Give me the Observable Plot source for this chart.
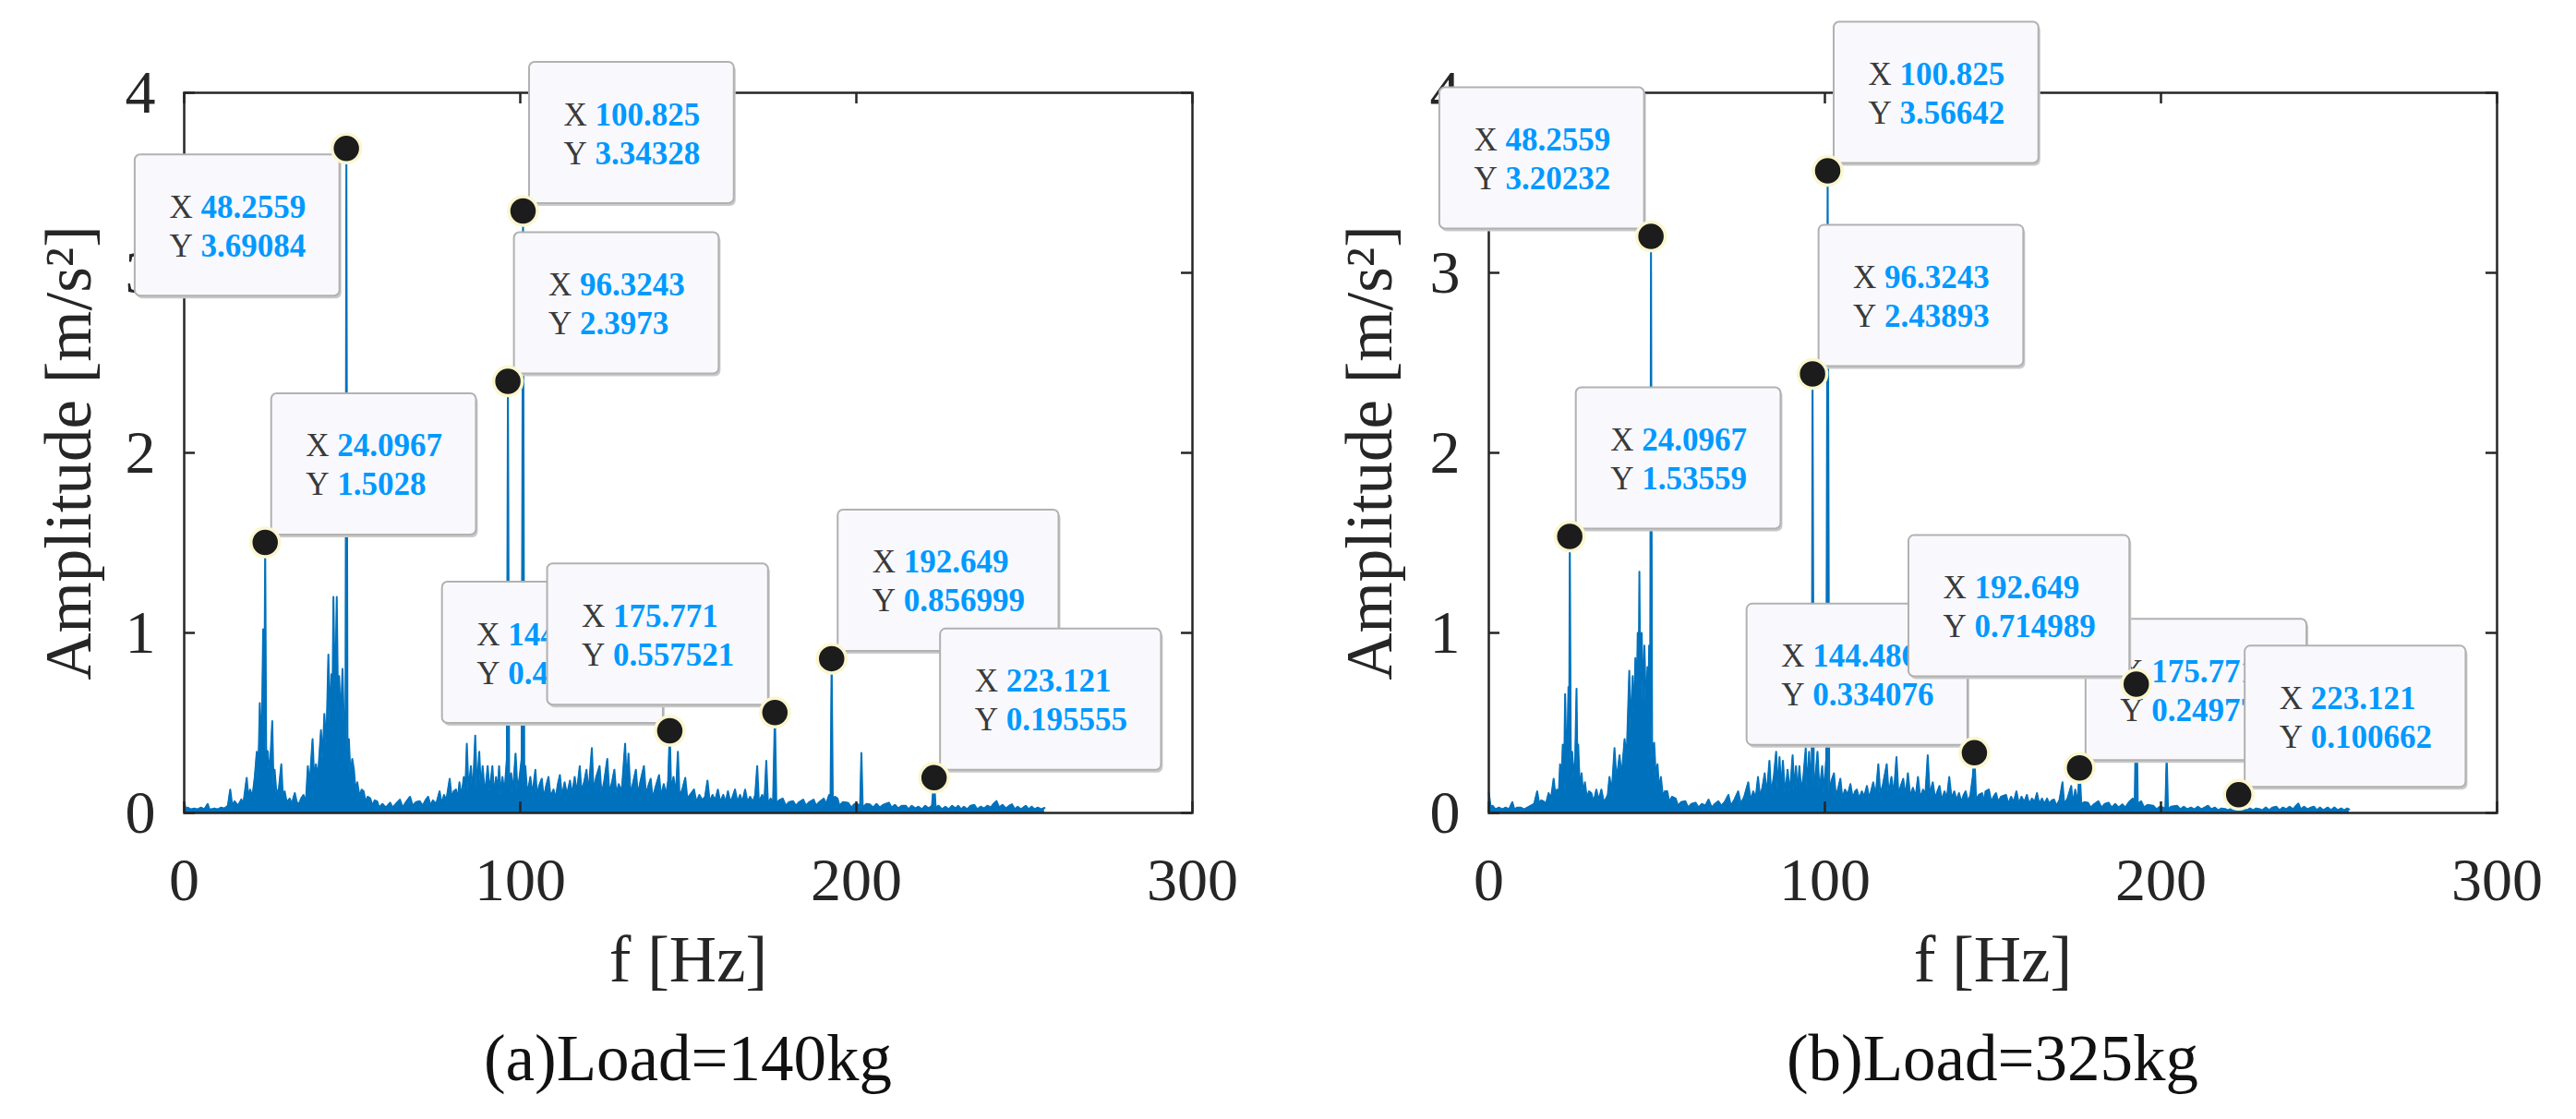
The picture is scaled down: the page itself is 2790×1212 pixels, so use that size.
<!DOCTYPE html>
<html>
<head>
<meta charset="utf-8">
<script src="https://cdn.jsdelivr.net/npm/d3@7"></script>
<script src="https://cdn.jsdelivr.net/npm/@observablehq/plot@0.6"></script>
<style>
  body { margin: 0; background: #fff; }
  #charts { display: flex; width: 2790px; }
  .panel { width: 1395px; }
  .panel svg { display: block; }
  .caption { font-family: "Liberation Serif", serif; font-size: 71px; line-height: 80px; padding-top: 16px; text-align: center; color: #111; }
</style>
</head>
<body>
<div id="charts"></div>
<script>
const xTicks = [0, 100, 200, 300];
const yTicks = [0, 1, 2, 3, 4];
const captions = ["(a)Load=140kg", "(b)Load=325kg"];

// spectrum samples [f Hz, amplitude], annotated peaks are merged in below
const specA = [
  [0,0.06],[0.5,0.02],[1,0.03],[2,0.02],[3,0.025],[4,0.02],[5,0.03],[6,0.02],[7,0.05],[7.5,0.02],
  [8,0.02],[9,0.025],[10,0.02],[11,0.03],[12,0.025],[13,0.04],[13.7,0.13],[14.3,0.04],[15,0.065],[16,0.04],
  [17,0.075],[17.6,0.05],[18.6,0.195],[19.2,0.07],[19.6,0.13],[20.3,0.09],[21,0.2],[21.6,0.34],[22,0.18],[22.5,0.61],
  [23,0.3],[23.5,1.02],[23.8,0.4],[24.4,0.35],[24.9,0.34],[25.4,0.2],[26.2,0.51],[26.6,0.15],[26.9,0.24],[27.5,0.1],
  [28.2,0.14],[28.9,0.27],[29.4,0.08],[29.9,0.12],[30.5,0.06],[31.4,0.08],[32,0.05],[32.9,0.11],[33.5,0.06],[34.2,0.05],
  [34.8,0.08],[35.5,0.1],[36.2,0.06],[36.8,0.26],[37.3,0.15],[38.2,0.41],[38.7,0.18],[39.2,0.27],[39.8,0.2],[40.7,0.46],
  [41.2,0.3],[41.7,0.55],[42.3,0.38],[42.9,0.88],[43.4,0.5],[43.8,0.77],[44.1,0.55],[44.4,1.2],[44.9,0.6],[45.4,1.2],
  [45.8,0.55],[46.1,0.76],[46.6,0.5],[47.1,0.8],[47.6,0.45],[48,0.5],[48.6,0.35],[49,0.41],[49.5,0.2],[50,0.3],
  [50.5,0.24],[51,0.12],[51.5,0.17],[52.2,0.09],[52.8,0.13],[53.4,0.12],[54,0.06],[54.6,0.09],[55.4,0.08],[56,0.04],
  [56.7,0.07],[57.4,0.065],[58,0.03],[59,0.05],[60,0.03],[61.3,0.057],[62,0.03],[63,0.05],[64.2,0.074],[65,0.03],
  [66,0.06],[67.2,0.09],[68,0.04],[69,0.06],[70.1,0.065],[71,0.04],[71.8,0.07],[72.6,0.09],[73.3,0.04],[74,0.07],
  [75,0.05],[76,0.12],[76.6,0.05],[77.3,0.1],[78,0.07],[79,0.19],[79.6,0.08],[80.2,0.12],[80.9,0.13],[81.4,0.07],
  [81.9,0.17],[82.5,0.09],[83.2,0.2],[83.6,0.1],[84.1,0.385],[84.6,0.12],[85.3,0.26],[85.9,0.11],[86.6,0.43],[87.1,0.13],
  [87.8,0.34],[88.3,0.12],[88.8,0.26],[89.5,0.1],[90.3,0.26],[90.9,0.12],[91.7,0.26],[92.2,0.1],[92.8,0.2],[93.3,0.12],
  [93.7,0.26],[94.2,0.1],[94.7,0.2],[95.3,0.11],[96,0.3],[96.7,0.15],[97.3,0.22],[97.8,0.11],[98.6,0.33],[99.2,0.12],
  [99.8,0.2],[100.4,0.3],[101.2,0.13],[101.5,0.26],[102.1,0.1],[103,0.2],[103.6,0.1],[104.5,0.24],[105,0.09],[105.6,0.15],
  [106.4,0.19],[107,0.08],[107.7,0.15],[108.4,0.2],[109,0.09],[109.9,0.13],[110.5,0.08],[111.2,0.16],[111.8,0.21],[112.4,0.09],
  [113.2,0.17],[113.9,0.1],[114.8,0.18],[115.4,0.1],[116.2,0.2],[116.8,0.11],[117.7,0.26],[118.2,0.12],[119,0.17],[119.7,0.24],
  [120.3,0.11],[121.3,0.36],[121.8,0.12],[122.6,0.2],[123.6,0.26],[124.2,0.1],[125,0.18],[125.9,0.3],[126.5,0.11],[127.3,0.17],
  [128,0.24],[128.6,0.1],[129.3,0.16],[130.2,0.12],[131.2,0.385],[131.7,0.15],[132.2,0.33],[132.8,0.1],[133.6,0.17],[134.4,0.24],
  [135,0.1],[135.8,0.18],[136.8,0.26],[137.4,0.1],[138.1,0.15],[138.8,0.19],[139.4,0.08],[140.2,0.14],[141.3,0.21],[141.9,0.09],
  [142.7,0.16],[143.4,0.1],[144,0.18],[144.9,0.12],[145.6,0.2],[146.3,0.1],[146.9,0.34],[147.4,0.09],[148.2,0.13],[149.1,0.195],
  [149.7,0.08],[150.5,0.1],[151.7,0.13],[152.4,0.06],[153.3,0.1],[154.2,0.07],[155,0.09],[155.7,0.18],[156.4,0.06],[157.2,0.1],
  [158,0.07],[158.8,0.13],[159.5,0.06],[160.4,0.1],[161.1,0.06],[161.8,0.12],[162.5,0.06],[163.2,0.09],[163.9,0.13],[164.6,0.06],
  [165.4,0.1],[166.1,0.06],[166.9,0.13],[167.6,0.06],[168.4,0.09],[169.2,0.06],[169.9,0.1],[170.5,0.26],[171,0.06],[172,0.1],
  [172.6,0.05],[173.2,0.29],[173.7,0.05],[174.5,0.08],[175.2,0.05],[176.2,0.05],[177,0.07],[178.1,0.08],[179,0.04],[180,0.06],
  [181.2,0.065],[182,0.04],[183,0.06],[184.2,0.074],[185,0.04],[186,0.06],[187.3,0.074],[188,0.04],[189,0.06],[190.3,0.08],
  [191,0.05],[191.9,0.1],[192.3,0.07],[193,0.06],[193.6,0.09],[194.4,0.08],[195,0.04],[196,0.06],[197.5,0.057],[198.5,0.03],
  [199.5,0.05],[200.5,0.048],[201.1,0.03],[201.5,0.333],[201.9,0.03],[203,0.05],[204,0.048],[205,0.03],[206,0.05],[207,0.03],
  [208,0.045],[209.7,0.057],[210.5,0.03],[211.5,0.045],[212.5,0.025],[213.5,0.04],[214.7,0.04],[215.5,0.02],[216.5,0.04],[217.5,0.025],
  [218.5,0.035],[219.5,0.02],[220.5,0.04],[221.5,0.025],[222.5,0.04],[223.6,0.03],[224.5,0.04],[225.5,0.02],[226.5,0.035],[227.5,0.02],
  [228.5,0.04],[229.5,0.025],[230.3,0.04],[231.2,0.02],[232,0.035],[233,0.02],[234,0.04],[235.1,0.045],[236,0.02],[237,0.035],
  [238,0.025],[239,0.04],[240,0.03],[240.8,0.05],[241.7,0.066],[242.5,0.03],[243.5,0.045],[244.5,0.025],[245.5,0.04],[246.3,0.048],
  [247.2,0.02],[248,0.035],[249,0.02],[250.4,0.04],[251.3,0.02],[252.2,0.035],[253,0.02],[254,0.03],[255,0.02],[256,0.028]
];

const specB = [
  [0,0.11],[0.6,0.03],[1.1,0.04],[2,0.02],[3,0.03],[4,0.02],[5,0.03],[6,0.02],[7,0.06],[7.6,0.02],
  [8.5,0.03],[9.5,0.03],[10.5,0.02],[11.5,0.03],[12.5,0.04],[13.5,0.05],[14.4,0.12],[15,0.05],[15.6,0.07],[16.3,0.065],
  [17,0.05],[17.8,0.11],[18.5,0.08],[19.3,0.19],[19.8,0.1],[20.3,0.13],[20.8,0.1],[21.2,0.27],[21.6,0.15],[22,0.38],
  [22.4,0.2],[22.7,0.66],[23.1,0.3],[23.4,0.38],[23.7,0.7],[23.9,0.35],[24.4,0.3],[24.8,0.34],[25.3,0.18],[25.7,0.3],
  [26.1,0.69],[26.4,0.2],[26.6,0.38],[27.1,0.12],[27.6,0.22],[28.1,0.1],[28.6,0.17],[29.2,0.08],[29.8,0.12],[30.5,0.11],
  [31.2,0.06],[32,0.13],[32.7,0.07],[33.5,0.13],[34.2,0.06],[34.9,0.08],[35.4,0.1],[35.9,0.2],[36.6,0.12],[37.4,0.36],
  [38,0.18],[38.9,0.32],[39.5,0.2],[40.4,0.41],[41,0.3],[41.8,0.79],[42.3,0.45],[42.8,0.76],[43.2,0.5],[43.6,0.86],
  [44,0.6],[44.3,1.0],[44.6,0.7],[44.8,1.34],[45.1,0.65],[45.5,1.0],[45.9,0.6],[46.3,0.93],[46.8,0.55],[47.2,0.81],
  [47.5,0.6],[47.7,0.93],[48,0.5],[48.6,0.3],[49.2,0.39],[49.7,0.2],[50.2,0.27],[50.7,0.12],[51.2,0.2],[51.8,0.09],
  [52.4,0.12],[53.1,0.12],[53.7,0.06],[54.5,0.09],[55.6,0.08],[56.3,0.04],[57.2,0.06],[58.5,0.065],[59.3,0.03],[60.3,0.05],
  [61.5,0.057],[62.4,0.03],[63.4,0.05],[64.4,0.04],[65.4,0.074],[66.3,0.03],[67.3,0.05],[68.3,0.065],[69.2,0.04],[70.2,0.06],
  [71.3,0.1],[72,0.04],[73,0.07],[74.2,0.12],[75,0.05],[76,0.09],[77.2,0.17],[77.9,0.07],[78.7,0.12],[79.4,0.08],
  [80.1,0.2],[80.7,0.09],[81.4,0.14],[82.1,0.22],[82.7,0.1],[83.5,0.29],[84,0.11],[84.8,0.2],[85.5,0.34],[86,0.12],
  [86.5,0.31],[87,0.12],[87.5,0.29],[88.2,0.1],[88.9,0.24],[89.6,0.11],[90.4,0.32],[90.9,0.12],[91.4,0.26],[91.9,0.1],
  [92.4,0.26],[93,0.12],[93.6,0.2],[94.3,0.36],[94.8,0.12],[95.3,0.34],[95.8,0.14],[96.1,0.3],[96.7,0.14],[97.2,0.2],
  [97.8,0.34],[98.4,0.12],[99.2,0.26],[99.7,0.11],[100.4,0.3],[101.3,0.12],[102,0.18],[102.7,0.22],[103.3,0.09],[104,0.14],
  [104.6,0.19],[105.2,0.08],[106,0.13],[106.8,0.1],[107.6,0.16],[108.3,0.08],[109,0.12],[109.5,0.13],[110.2,0.08],[111,0.12],
  [111.7,0.09],[112.5,0.15],[113.2,0.08],[114.4,0.17],[115.1,0.09],[115.9,0.27],[116.5,0.1],[117.3,0.16],[118.4,0.27],[119,0.1],
  [119.8,0.2],[120.5,0.1],[121.3,0.31],[121.9,0.1],[122.6,0.15],[123.3,0.19],[124,0.09],[124.7,0.22],[125.4,0.09],[126.2,0.14],
  [127,0.09],[127.7,0.2],[128.4,0.08],[129.2,0.13],[129.9,0.1],[130.6,0.32],[131.2,0.1],[132.1,0.17],[132.8,0.08],[133.5,0.12],
  [134.1,0.15],[134.8,0.07],[135.6,0.12],[136.3,0.08],[137,0.2],[137.7,0.08],[138.5,0.12],[139.2,0.07],[139.9,0.11],[140.6,0.06],
  [141.3,0.1],[141.9,0.12],[142.6,0.06],[143.3,0.1],[144,0.2],[145,0.07],[145.8,0.1],[146.8,0.11],[147.4,0.06],[147.8,0.12],
  [148.8,0.13],[149.5,0.06],[150.2,0.09],[150.9,0.11],[151.6,0.06],[152.4,0.09],[153.9,0.1],[154.6,0.05],[155.4,0.09],[156.2,0.06],
  [157,0.12],[157.7,0.05],[158.5,0.09],[159.3,0.06],[160.1,0.1],[160.8,0.05],[161.6,0.08],[162.4,0.06],[163.1,0.11],[163.8,0.05],
  [164.6,0.08],[165.3,0.05],[166.1,0.08],[166.8,0.05],[167.5,0.07],[168.2,0.074],[168.9,0.04],[169.8,0.07],[170.7,0.17],[171.2,0.05],
  [172.2,0.08],[173.3,0.15],[173.8,0.05],[174.5,0.13],[175.2,0.05],[176.3,0.05],[177.2,0.06],[178.3,0.057],[179.1,0.03],[180.2,0.05],
  [181.4,0.065],[182.3,0.03],[183.3,0.05],[184.4,0.057],[185.3,0.03],[186.4,0.05],[187.4,0.03],[188.5,0.048],[189.4,0.03],[190.5,0.06],
  [191.6,0.08],[192.2,0.06],[193.1,0.05],[194.1,0.065],[195,0.03],[196,0.045],[197.7,0.04],[198.7,0.02],[199.7,0.035],[200.7,0.03],
  [201.3,0.02],[201.7,0.32],[202.1,0.02],[203,0.035],[204.8,0.04],[205.8,0.02],[206.8,0.035],[207.8,0.02],[208.9,0.03],[210,0.02],
  [211,0.035],[212,0.02],[213,0.03],[214,0.04],[215,0.02],[216,0.03],[217,0.015],[218,0.025],[219.1,0.022],[220,0.015],
  [221,0.025],[222,0.015],[222.7,0.03],[223.6,0.02],[224.5,0.025],[225.5,0.015],[226.5,0.025],[227.5,0.015],[228.3,0.025],[229.2,0.022],
  [230.2,0.015],[231.2,0.03],[232.2,0.015],[233.2,0.03],[234.3,0.035],[235.3,0.015],[236.3,0.03],[237.3,0.02],[238.3,0.035],[239.3,0.02],
  [240.2,0.04],[240.9,0.052],[241.6,0.02],[242.6,0.035],[243.6,0.02],[244.6,0.03],[245.5,0.035],[246.4,0.015],[247.3,0.03],[248.3,0.015],
  [249.6,0.03],[250.6,0.015],[251.6,0.03],[252.6,0.015],[253.6,0.025],[254.6,0.015],[255.4,0.025],[256,0.02]
];

// data tips
const peaksA = [
  {f: 24.0967, a: 1.5028}, {f: 48.2559, a: 3.69084}, {f: 96.3243, a: 2.3973}, {f: 100.825, a: 3.34328},
  {f: 144.486, a: 0.456273}, {f: 175.771, a: 0.557521}, {f: 192.649, a: 0.856999}, {f: 223.121, a: 0.195555}
];
const peaksB = [
  {f: 24.0967, a: 1.53559}, {f: 48.2559, a: 3.20232}, {f: 96.3243, a: 2.43893}, {f: 100.825, a: 3.56642},
  {f: 144.486, a: 0.334076}, {f: 175.771, a: 0.249771}, {f: 192.649, a: 0.714989}, {f: 223.121, a: 0.100662}
];

const ink = "#262626", blue = "#0072bd", tipBlue = "#0099ff";
// which corner of the dot each tip box sits at (u/d + l/r)
const sidesA = ["ur", "dl", "ur", "ur", "ul", "ul", "ur", "ur"];
const sidesB = ["ur", "ul", "ur", "ur", "ul", "ur", "ul", "ur"];

const charW = c => c === "." ? 8.75 : 17.5;

function callout(p, side) {
  const vals = [String(p.f), String(p.a)];
  const w = 71 + d3.max(vals, s => d3.sum(s, charW)) + 37, h = 153;
  const L = side[1] === "r" ? 7 : -(7 + w);
  const T = side[0] === "u" ? -(8 + h) : 7;
  const box = (ox, oy, opts) => Plot.rect([p], {
    x1: "f", x2: "f", y1: "a", y2: "a",
    insetLeft: L + ox, insetRight: -(L + ox + w), insetTop: T + oy, insetBottom: -(T + oy + h),
    rx: 6, ...opts
  });
  const txt = (s, dx, dy, bold) => Plot.text([p], {
    x: "f", y: "a", text: () => s, dx, dy,
    textAnchor: "start", lineAnchor: "bottom",
    fontFamily: "Liberation Serif", fontSize: 35,
    fontWeight: bold ? "bold" : "normal", fill: bold ? tipBlue : "#3a3a3a"
  });
  return [
    box(2, 3, {fill: "#c9c9c9"}),
    box(0, 0, {fill: "#f9f9fd", stroke: "#b1b1b1", strokeWidth: 2}),
    txt("X", L + 37, T + 68), txt(vals[0], L + 71, T + 68, true),
    txt("Y", L + 37, T + 110), txt(vals[1], L + 71, T + 110, true)
  ];
}

function panel(spec, peaks, sides, caption, ml, mr, labelDx) {
  const line = spec.map(([f, a]) => ({f, a})).concat(peaks).sort((u, v) => u.f - v.f);
  const innerW = 1395 - ml - mr, innerH = 780;
  const chart = Plot.plot({
    width: 1395, height: 1090,
    marginTop: 100, marginBottom: 210, marginLeft: ml, marginRight: mr,
    style: {fontFamily: "Liberation Serif", color: ink, background: "white"},
    x: {domain: [0, 300]},
    y: {domain: [0, 4]},
    marks: [
      Plot.axisX(xTicks, {tickSize: 0, tickPadding: 48, fontSize: 66, tickFormat: "d", label: null}),
      Plot.axisY(yTicks, {tickSize: 0, tickPadding: 31, fontSize: 66, tickFormat: "d", label: null}),
      Plot.text(["f [Hz]"], {text: d => d, frameAnchor: "bottom", dy: 182, lineAnchor: "bottom", fontSize: 71, fill: ink}),
      Plot.text(["Amplitude [m/s²]"], {text: d => d, frameAnchor: "left", textAnchor: "middle", dx: labelDx, rotate: -90, fontSize: 71, fill: ink}),
      Plot.areaY(line, {x: "f", y: "a", fill: blue}),
      Plot.lineY(line, {x: "f", y: "a", stroke: blue, strokeWidth: 2}),
      Plot.frame({stroke: ink, strokeWidth: 2.5}),
      Plot.tickX(xTicks, {x: d => d, insetTop: innerH - 12, stroke: ink, strokeWidth: 2.5}),
      Plot.tickX(xTicks, {x: d => d, insetBottom: innerH - 12, stroke: ink, strokeWidth: 2.5}),
      Plot.tickY(yTicks, {y: d => d, insetRight: innerW - 12, stroke: ink, strokeWidth: 2.5}),
      Plot.tickY(yTicks, {y: d => d, insetLeft: innerW - 12, stroke: ink, strokeWidth: 2.5}),
      ...peaks.flatMap((p, i) => callout(p, sides[i])),
      Plot.dot(peaks, {x: "f", y: "a", r: 15.5, fill: "#1c1c1c", stroke: "#fbf6cf", strokeWidth: 3.5})
    ]
  });
  const div = d3.select("#charts").append("div").attr("class", "panel");
  div.append(() => chart);
  div.append("div").attr("class", "caption")
    .style("margin-left", ml + "px").style("width", innerW + "px")
    .text(caption);
}

panel(specA, peaksA, sidesA, captions[0], 199, 104, -124);
panel(specB, peaksB, sidesB, captions[1], 217, 86, -128);
</script>
</body>
</html>
